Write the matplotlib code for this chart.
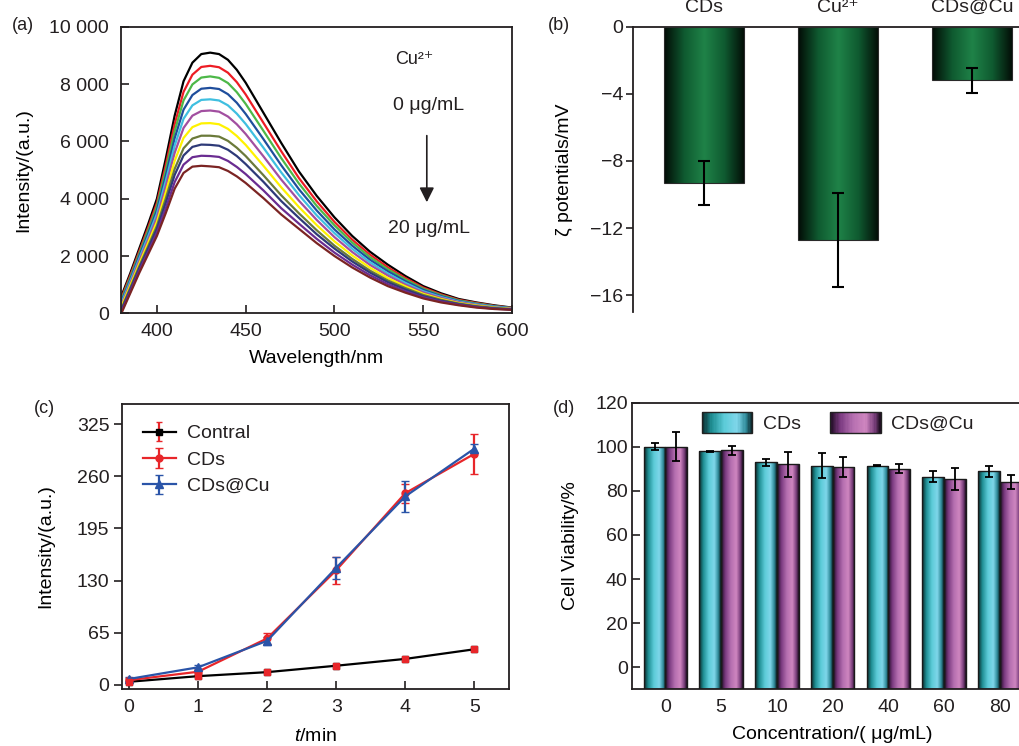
import numpy as np
import matplotlib
matplotlib.use('Agg')
import matplotlib.pyplot as plt
from matplotlib.colors import LinearSegmentedColormap
from matplotlib.patches import Rectangle
from matplotlib.legend_handler import HandlerBase

plt.rcParams['font.family'] = ['Liberation Sans', 'DejaVu Sans']
plt.rcParams['font.size'] = 14
plt.rcParams['mathtext.fontset'] = 'custom'
plt.rcParams['mathtext.rm'] = 'Liberation Sans'
plt.rcParams['mathtext.it'] = 'Liberation Sans:italic'
plt.rcParams['axes.linewidth'] = 1.3
plt.rcParams['axes.edgecolor'] = '#231f20'
plt.rcParams['text.color'] = '#231f20'
plt.rcParams['xtick.color'] = '#231f20'
plt.rcParams['ytick.color'] = '#231f20'

# ---- (a) fluorescence spectra, intensity in thousands ----
wl = [380, 385, 390, 395, 400, 405, 410, 415, 420, 425, 430, 435, 440, 445, 450,
      460, 470, 480, 490, 500, 510, 520, 530, 540, 550, 560, 570, 580, 590, 600]
spec_0 = [0.60, 1.40, 2.25, 3.10, 4.00, 5.40, 6.90, 8.10, 8.75, 9.05, 9.10, 9.05, 8.85, 8.50, 8.05,
          7.00, 5.95, 4.95, 4.10, 3.35, 2.70, 2.15, 1.70, 1.30, 0.95, 0.70, 0.50, 0.38, 0.28, 0.20]
spec_1 = [0.53, 1.32, 2.15, 2.98, 3.85, 5.18, 6.60, 7.73, 8.33, 8.60, 8.64, 8.59, 8.40, 8.07, 7.64,
          6.65, 5.66, 4.72, 3.91, 3.19, 2.57, 2.05, 1.61, 1.23, 0.90, 0.66, 0.47, 0.36, 0.26, 0.19]
spec_2 = [0.47, 1.25, 2.07, 2.88, 3.73, 5.00, 6.36, 7.43, 7.99, 8.23, 8.27, 8.22, 8.04, 7.72, 7.31,
          6.37, 5.42, 4.53, 3.75, 3.07, 2.47, 1.96, 1.54, 1.18, 0.86, 0.63, 0.45, 0.34, 0.25, 0.18]
spec_3 = [0.41, 1.18, 1.99, 2.77, 3.60, 4.81, 6.11, 7.11, 7.62, 7.84, 7.87, 7.83, 7.65, 7.35, 6.96,
          6.08, 5.17, 4.33, 3.59, 2.93, 2.36, 1.87, 1.47, 1.12, 0.82, 0.60, 0.43, 0.32, 0.24, 0.18]
spec_4 = [0.35, 1.11, 1.90, 2.67, 3.47, 4.62, 5.85, 6.79, 7.26, 7.45, 7.47, 7.43, 7.26, 6.97, 6.61,
          5.78, 4.92, 4.13, 3.42, 2.80, 2.25, 1.78, 1.39, 1.06, 0.77, 0.57, 0.41, 0.31, 0.23, 0.17]
spec_5 = [0.29, 1.04, 1.82, 2.56, 3.34, 4.43, 5.60, 6.47, 6.90, 7.06, 7.08, 7.04, 6.87, 6.60, 6.26,
          5.48, 4.67, 3.93, 3.26, 2.66, 2.14, 1.69, 1.32, 1.00, 0.73, 0.54, 0.39, 0.29, 0.21, 0.16]
spec_6 = [0.23, 0.97, 1.72, 2.45, 3.19, 4.22, 5.32, 6.12, 6.50, 6.63, 6.64, 6.60, 6.44, 6.19, 5.88,
          5.15, 4.40, 3.71, 3.08, 2.51, 2.02, 1.59, 1.23, 0.94, 0.68, 0.50, 0.36, 0.27, 0.20, 0.15]
spec_7 = [0.16, 0.89, 1.63, 2.33, 3.05, 4.01, 5.04, 5.76, 6.10, 6.20, 6.20, 6.17, 6.02, 5.78, 5.49,
          4.82, 4.12, 3.49, 2.90, 2.36, 1.90, 1.49, 1.15, 0.88, 0.64, 0.47, 0.34, 0.25, 0.19, 0.14]
spec_8 = [0.11, 0.83, 1.56, 2.25, 2.95, 3.86, 4.83, 5.51, 5.81, 5.89, 5.88, 5.85, 5.71, 5.49, 5.21,
          4.59, 3.92, 3.33, 2.76, 2.26, 1.81, 1.42, 1.09, 0.83, 0.60, 0.44, 0.32, 0.23, 0.17, 0.14]
spec_9 = [0.05, 0.76, 1.48, 2.14, 2.82, 3.67, 4.58, 5.19, 5.45, 5.50, 5.49, 5.46, 5.32, 5.11, 4.86,
          4.29, 3.67, 3.13, 2.60, 2.12, 1.70, 1.33, 1.02, 0.77, 0.56, 0.41, 0.30, 0.22, 0.16, 0.13]
spec_10 = [0.00, 0.70, 1.40, 2.05, 2.70, 3.50, 4.35, 4.90, 5.12, 5.15, 5.13, 5.10, 4.97, 4.78, 4.55,
           4.02, 3.45, 2.95, 2.45, 2.00, 1.60, 1.25, 0.95, 0.72, 0.52, 0.38, 0.28, 0.20, 0.15, 0.12]
spectra = [spec_0, spec_1, spec_2, spec_3, spec_4, spec_5, spec_6, spec_7, spec_8, spec_9, spec_10]
spec_colors = ['#000000', '#ed1c24', '#4db848', '#1f4e9c', '#3fbfe0', '#a24fa0',
               '#fff200', '#6b7a3a', '#2e3a78', '#6a2c91', '#7b2423']

# ---- (b) zeta potentials ----
zeta_labels = ['CDs', 'Cu²⁺', 'CDs@Cu']
zeta_mean = [-9.3, -12.7, -3.2]
zeta_err = [1.3, 2.8, 0.75]

# ---- (c) intensity vs time ----
t_min = [0, 1, 2, 3, 4, 5]
contral = [4, 11, 16, 24, 32.5, 44.5]
contral_err = [1.5, 1.5, 2, 2, 2, 2]
cds = [6, 16.5, 58, 143, 239, 288]
cds_err = [3, 4, 7, 17, 12, 25]
cdscu = [7.5, 22, 55, 146, 235, 294.5]
cdscu_err = [3, 3, 5, 14, 19, 6]

# ---- (d) cell viability ----
conc_labels = ['0', '5', '10', '20', '40', '60', '80']
via_cds = [100, 98, 93, 91.5, 91.5, 86.5, 89]
via_cds_err = [1.5, 0.3, 1.5, 5.8, 0.3, 2.3, 2.5]
via_cu = [100, 98.5, 92, 91, 90, 85.5, 84]
via_cu_err = [6.6, 2, 5.7, 4.5, 2, 5, 3]
via_floor = -10

green_cmap = LinearSegmentedColormap.from_list(
    'g', [(0, '#020a05'), (0.25, '#0f5a30'), (0.5, '#1f8248'), (0.75, '#0f5a30'), (1, '#020a05')])
cyan_cmap = LinearSegmentedColormap.from_list(
    'c', [(0, '#0a2426'), (0.2, '#1f8f94'), (0.45, '#5ccbd8'), (0.7, '#7fd6ea'), (0.88, '#2f8a99'), (1, '#0a1e22')])
mag_cmap = LinearSegmentedColormap.from_list(
    'm', [(0, '#1c0a20'), (0.2, '#7a3a80'), (0.45, '#b56fb0'), (0.7, '#cf86c0'), (0.88, '#7a3f7c'), (1, '#1a0a1c')])


def grad_fill(ax, bar, cmap):
    x0, y0 = bar.get_xy()
    w, h = bar.get_width(), bar.get_height()
    im = ax.imshow(np.linspace(0, 1, 256).reshape(1, -1), cmap=cmap, aspect='auto',
                   extent=(x0, x0 + w, y0, y0 + h), zorder=2, interpolation='bilinear')
    im.set_clip_path(bar)


class GradHandler(HandlerBase):
    def __init__(self, cmap):
        super().__init__()
        self.cmap = cmap

    def create_artists(self, legend, orig_handle, xdescent, ydescent, width, height, fontsize, trans):
        arts = []
        n = 40
        for i in range(n):
            arts.append(Rectangle((-xdescent + i * width / n, -ydescent), width / n * 1.05, height,
                                  facecolor=self.cmap((i + 0.5) / n), edgecolor='none', transform=trans))
        arts.append(Rectangle((-xdescent, -ydescent), width, height, fill=False,
                              edgecolor='#222222', lw=1.0, transform=trans))
        return arts


fig = plt.figure(figsize=(10.2, 7.46), dpi=100)

# (a)
ax = fig.add_axes([0.119, 0.580, 0.383, 0.384])
for s, c in zip(spectra, spec_colors):
    ax.plot(wl, np.array(s) * 1000, color=c, lw=1.6, solid_joinstyle='round')
ax.set_xlim(380, 600)
ax.set_ylim(0, 10000)
ax.set_xticks([400, 450, 500, 550, 600])
ax.set_yticks([0, 2000, 4000, 6000, 8000, 10000])
ax.set_yticklabels(['0', '2 000', '4 000', '6 000', '8 000', '10 000'])
ax.tick_params(direction='in', length=6, width=1.2)
ax.tick_params(axis='y', pad=9)
ax.tick_params(axis='x', pad=7)
ax.set_xlabel('Wavelength/nm', labelpad=7)
ax.set_ylabel('Intensity/(a.u.)', labelpad=12)
ax.text(545, 8850, 'Cu²⁺', ha='center', va='center', fontsize=13)
ax.text(553, 7270, '0 μg/mL', ha='center', va='center', fontsize=14)
ax.text(553, 2970, '20 μg/mL', ha='center', va='center', fontsize=14)
ax.annotate('', xy=(552, 3780), xytext=(552, 6300),
            arrowprops=dict(arrowstyle='-|>', lw=1.2, color='#231f20', mutation_scale=22))

# (b)
ax = fig.add_axes([0.6206, 0.582, 0.402, 0.382])
xb = np.arange(len(zeta_labels))
bars = ax.bar(xb, zeta_mean, width=0.6, facecolor='none', edgecolor='#2a2a2a', lw=0.8, zorder=3)
for b in bars:
    grad_fill(ax, b, green_cmap)
ax.errorbar(xb, zeta_mean, yerr=zeta_err, fmt='none', ecolor='k', elinewidth=1.5,
            capsize=4, capthick=1.5, zorder=4)
ax.set_xlim(-0.53, 2.53)
ax.set_ylim(-17, 0)
ax.spines['bottom'].set_visible(False)
ax.xaxis.set_ticks_position('top')
ax.set_xticks(xb)
ax.set_xticklabels(zeta_labels)
ax.tick_params(axis='x', direction='in', length=5, width=1.2, pad=8)
ax.set_yticks([0, -4, -8, -12, -16])
ax.tick_params(axis='y', direction='out', length=5, width=1.2, pad=2)
ax.set_ylabel('ζ potentials/mV', labelpad=12)

# (c)
ax = fig.add_axes([0.1196, 0.0764, 0.3794, 0.382])
ax.errorbar(t_min, contral, yerr=contral_err, color='k', marker='s', ms=5, lw=1.6,
            ecolor='#e8262a', capsize=2.5, label='Contral', zorder=3)
ax.plot(t_min, contral, ls='none', marker='s', ms=5, color='#e8262a', zorder=4)
ax.errorbar(t_min, cds, yerr=cds_err, color='#e8262a', marker='o', ms=5, lw=1.6,
            capsize=3, label='CDs', zorder=3)
ax.errorbar(t_min, cdscu, yerr=cdscu_err, color='#2a54a8', marker='^', ms=5.5, lw=1.6,
            capsize=3, label='CDs@Cu', zorder=3)
ax.set_xlim(-0.1, 5.5)
ax.set_ylim(-5, 350)
ax.set_xticks(t_min)
ax.set_yticks([0, 65, 130, 195, 260, 325])
ax.tick_params(axis='x', direction='in', length=6, width=1.2, pad=7)
ax.tick_params(axis='y', direction='out', length=6, width=1.2, pad=3)
ax.set_xlabel('$t$/min', labelpad=9)
ax.set_ylabel('Intensity/(a.u.)', labelpad=16)
ax.legend(loc='upper left', bbox_to_anchor=(0.053, 0.927), borderpad=0, frameon=False,
          handlelength=1.7, handletextpad=0.6, labelspacing=0.45, borderaxespad=0)

# (d)
ax = fig.add_axes([0.6196, 0.076, 0.3934, 0.3842])
xd = np.arange(len(conc_labels))
bw = 0.39
b1 = ax.bar(xd - bw / 2, np.array(via_cds) - via_floor, width=bw, bottom=via_floor,
            facecolor='none', edgecolor='#1a1a1a', lw=1.0, zorder=3)
b2 = ax.bar(xd + bw / 2, np.array(via_cu) - via_floor, width=bw, bottom=via_floor,
            facecolor='none', edgecolor='#1a1a1a', lw=1.0, zorder=3)
for b in b1:
    grad_fill(ax, b, cyan_cmap)
for b in b2:
    grad_fill(ax, b, mag_cmap)
ax.errorbar(xd - bw / 2, via_cds, yerr=via_cds_err, fmt='none', ecolor='k', elinewidth=1.3,
            capsize=3, capthick=1.3, zorder=4)
ax.errorbar(xd + bw / 2, via_cu, yerr=via_cu_err, fmt='none', ecolor='k', elinewidth=1.3,
            capsize=3, capthick=1.3, zorder=4)
ax.set_xlim(-0.6, 6.6)
ax.set_ylim(via_floor, 120)
ax.set_xticks(xd)
ax.set_xticklabels(conc_labels)
ax.set_yticks([0, 20, 40, 60, 80, 100, 120])
ax.tick_params(axis='x', length=0, pad=7)
ax.tick_params(axis='y', direction='in', length=6, width=1.2, pad=3)
ax.set_xlabel('Concentration/( μg/mL)', labelpad=7)
ax.set_ylabel('Cell Viability/%', labelpad=12)
h1 = Rectangle((0, 0), 1, 1)
h2 = Rectangle((0, 0), 1, 1)
ax.legend([h1, h2], ['CDs', 'CDs@Cu'], handler_map={h1: GradHandler(cyan_cmap), h2: GradHandler(mag_cmap)},
          loc='upper left', bbox_to_anchor=(0.1735, 0.969), borderpad=0, borderaxespad=0,
          frameon=False, ncol=2, handlelength=2.6, handleheight=1.3, handletextpad=0.55,
          columnspacing=1.5)

fig.text(0.012, 0.966, '(a)', ha='left', va='center', fontsize=13)
fig.text(0.537, 0.966, '(b)', ha='left', va='center', fontsize=13)
fig.text(0.033, 0.452, '(c)', ha='left', va='center', fontsize=13)
fig.text(0.542, 0.453, '(d)', ha='left', va='center', fontsize=13)

fig.savefig('out.png', dpi=100)
